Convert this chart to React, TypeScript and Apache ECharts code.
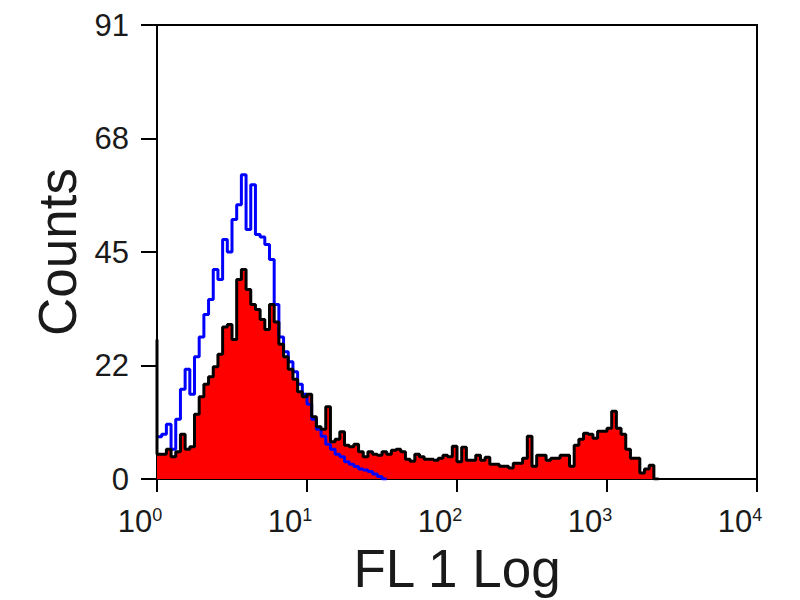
import * as echarts from 'echarts';
import { useEffect, useRef } from 'react';

// log-channel histogram, 32 channels per decade from 10^0 to 10^4
const BINS_PER_DECADE = 32;
const decadeTicks = [0, 1, 2, 3, 4];
const countTicks = [0, 22, 45, 68, 91];

// stained sample (red fill, black outline); first value is the pile-up at 10^0
const sampleFirstChannel = 28;
const sampleCounts = [
  5, 5, 6, 4.5, 5.5, 9, 6, 6.5, 13, 16.5, 19, 20.5, 22.5, 25, 30.5, 31, 28, 40, 42, 38,
  35, 34, 32, 30, 35, 31.5, 27, 24.5, 22, 20, 17.5, 16.5, 17, 12.5, 10.5, 10, 14.5, 7.5, 8, 9.5,
  6.8, 6.5, 7, 5.5, 4.5, 5.5, 5, 4.8, 5.5, 5, 5.8, 6, 5.5, 4, 3.6, 5, 4.5, 4, 4, 3.8,
  4.2, 4.8, 4.5, 6.6, 3.5, 6.4, 3.8, 3.8, 4.8, 3.8, 4.4, 3, 3, 2.6, 2.6, 2.2, 3.2, 3.2, 4.2, 8.6,
  2.6, 4.8, 4.8, 3.8, 4.2, 4.2, 4.8, 4.8, 2.6, 6.8, 8, 9.2, 9, 8.2, 9.6, 9.6, 10.2, 13.6, 10.2, 9,
  6, 4.2, 4.2, 1.2, 2, 2.8, 0,
];

// isotype control (blue outline)
const controlFirstChannel = 8.5;
const controlCounts = [
  8.5, 9, 11, 6, 12, 18, 22, 17, 24.5, 28.5, 33, 36, 42, 40, 48, 45.5, 52, 55, 61, 50,
  59, 49, 48.5, 47, 44, 35, 28.5, 25.5, 23.5, 21.5, 19, 17, 15, 12, 10, 8.6, 7, 6, 5, 4.5,
  3.5, 3, 2.5, 2, 1.8, 1.5, 1, 0.5, 0,
];

const FONT = 'Liberation Sans, Arial, sans-serif';
const TEXT = '#1a1a1a';

const binEdge = (i: number) => Math.pow(10, i / BINS_PER_DECADE);

// points at right edges of each channel, drawn with step 'start'
const toSteps = (first: number, counts: number[]) => [
  [1, first],
  ...counts.map((c, i) => [binEdge(i + 1), c]),
];

export default function App() {
  const container = useRef<HTMLDivElement | null>(null);

  useEffect(() => {
    if (!container.current) return;
    const chart = echarts.init(container.current, undefined, { renderer: 'svg' });
    const sample = toSteps(sampleFirstChannel, sampleCounts);
    const control = toSteps(controlFirstChannel, controlCounts);

    chart.setOption({
      animation: false,
      backgroundColor: '#fff',
      grid: {
        left: 157,
        right: 43,
        top: 25,
        bottom: 119,
        show: true,
        borderColor: '#000',
        borderWidth: 2,
        backgroundColor: 'transparent',
      },
      xAxis: {
        type: 'log',
        logBase: 10,
        min: Math.pow(10, decadeTicks[0]),
        max: Math.pow(10, decadeTicks[decadeTicks.length - 1]),
        name: 'FL 1 Log',
        nameLocation: 'middle',
        nameGap: 58,
        nameTextStyle: { fontSize: 53, color: TEXT, fontFamily: FONT },
        axisLine: { onZero: false, lineStyle: { color: '#000', width: 2 } },
        axisTick: { show: true, length: 13, lineStyle: { color: '#000', width: 2 } },
        minorTick: { show: false },
        splitLine: { show: false },
        axisLabel: {
          margin: 27,
          align: 'center',
          padding: [0, 34, 0, 0],
          formatter: (v: number) => `{b|10}{s|${Math.round(Math.log10(v))}}`,
          rich: {
            b: { fontSize: 31, lineHeight: 31, color: TEXT, fontFamily: FONT },
            s: { fontSize: 18, lineHeight: 18, verticalAlign: 'top', color: TEXT, fontFamily: FONT },
          },
        },
      },
      yAxis: {
        type: 'value',
        min: countTicks[0],
        max: countTicks[countTicks.length - 1],
        interval: (countTicks[countTicks.length - 1] - countTicks[0]) / (countTicks.length - 1),
        name: 'Counts',
        nameLocation: 'middle',
        nameGap: 68,
        nameTextStyle: { fontSize: 53, color: TEXT, fontFamily: FONT },
        axisLine: { show: true, lineStyle: { color: '#000', width: 2 } },
        axisTick: { show: true, length: 16, lineStyle: { color: '#000', width: 2 } },
        splitLine: { show: false },
        axisLabel: {
          margin: 28,
          fontSize: 31,
          color: TEXT,
          fontFamily: FONT,
          formatter: (v: number) => String(Math.floor(v + 1e-9)),
        },
      },
      series: [
        {
          name: 'sample fill',
          type: 'line',
          step: 'start',
          data: sample,
          symbol: 'none',
          lineStyle: { width: 0, opacity: 0 },
          areaStyle: { color: '#ff0000', opacity: 1 },
          z: 1,
        },
        {
          name: 'control',
          type: 'line',
          step: 'start',
          data: control,
          symbol: 'none',
          lineStyle: { color: '#0000ff', width: 3 },
          z: 2,
        },
        {
          name: 'sample',
          type: 'line',
          step: 'start',
          data: sample,
          symbol: 'none',
          lineStyle: { color: '#000', width: 3 },
          z: 3,
        },
      ],
    });

    return () => {
      chart.dispose();
    };
  }, []);

  return (
    <div
      ref={container}
      style={{ position: 'fixed', left: 0, top: 0, width: 800, height: 600, background: '#fff' }}
    />
  );
}
